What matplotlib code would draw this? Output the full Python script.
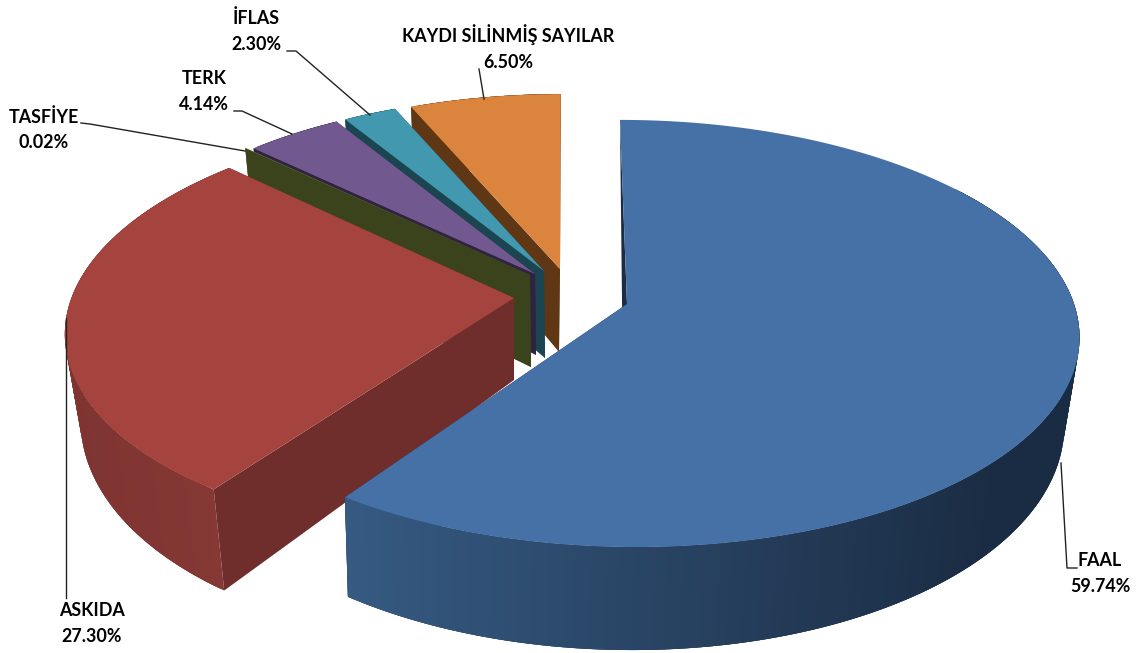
import numpy as np
import matplotlib
matplotlib.use("Agg")
import matplotlib.pyplot as plt
from matplotlib.patches import Polygon
from matplotlib.colors import to_rgb

# wartosci
names = ['FAAL', 'ASKIDA', 'TASFİYE', 'TERK', 'İFLAS', 'KAYDI SİLİNMİŞ SAYILAR']
shares = [59.74, 27.30, 0.02, 4.14, 2.30, 6.50]

# kolory: wierzch, sciana boczna
top_colors = ['#4571A6', '#A5443F', '#89A54E', '#71588F', '#4198AF', '#DB843D']
side_colors = ['#1B2D45', '#6F2E2C', '#3A431C', '#2F2340', '#1A4551', '#5F3715']
wall_left = ['#365A82', '#7E3431', '#3A431C', '#2F2340', '#1A4551', '#5F3715']
wall_right = ['#1A2C43', '#863935', '#3A431C', '#2F2340', '#1A4551', '#5F3715']

# uklad w pikselach obrazka
apex_top = [(627, 304), (514, 298), (530, 275), (535, 274), (544, 271), (560, 269)]
apex_bot = [(623, 390), (514, 380), (531, 367), (536, 355), (545, 358), (559, 352)]
scale = [1.0, 0.99, 0.965, 0.955, 0.95, 0.95]
skew = [-8, 15, 3, 3, 1, 1]
bot_x = [0.975, 0.965, 0.975, 0.975, 0.975, 0.975]
bot_y = [1.07, 1.10, 1.07, 1.07, 1.07, 1.07]
SX, SY, K = 447, 209.5, 0.138


def rim(theta, apex, s, sk, bx=1.0, by=1.0):
    u, v = np.sin(theta), np.cos(theta)
    w = 1 + K * v
    x = apex[0] + s * bx * (SX * u + sk * v) / w
    y = apex[1] - s * by * SY * v / w
    return np.column_stack([x, y])


fig = plt.figure(figsize=(11.37, 6.53), dpi=100)
ax = fig.add_axes([0, 0, 1, 1])
ax.set_xlim(0, 1137)
ax.set_ylim(653, 0)
ax.axis('off')

edges = np.radians(np.concatenate([[0], np.cumsum(shares)]) * 3.6)

# linie odniesienia
ax.plot([66, 66], [318, 598], color='#222222', lw=1.0, zorder=40)
ax.plot([1061, 1067, 1077], [463, 568, 568], color='#222222', lw=1.0, zorder=40)
ax.plot([81, 90, 245], [123, 124, 151], color='#222222', lw=1.0, zorder=40)
ax.plot([234, 242, 292], [111, 111, 134], color='#222222', lw=1.0, zorder=40)
ax.plot([287, 296, 370], [51, 51, 115], color='#222222', lw=1.0, zorder=40)
ax.plot([479, 484], [69, 99], color='#222222', lw=1.0, zorder=40)

z = 2
# od tylu do przodu
for i in [5, 4, 3, 2, 1, 0]:
    t = np.linspace(edges[i], edges[i + 1], max(3, int(shares[i] * 6)))
    top = rim(t, apex_top[i], scale[i], skew[i])
    bot = rim(t, apex_bot[i], scale[i], skew[i], bot_x[i], bot_y[i])

    # sciany promieniowe
    for j in [0, -1]:
        quad = [apex_top[i], top[j], bot[j], apex_bot[i]]
        if i == 0 and j == 0:
            # cienki pasek przy FAAL, bez zalamania
            quad = [apex_top[i], top[j], apex_bot[i]]
        ax.add_patch(Polygon(quad, closed=True, fc=side_colors[i], lw=0, zorder=z))
    z += 1

    # sciana zewnetrzna z gradientem wg x, kazdy kawalek zachodzi na nastepny
    c0, c1 = np.array(to_rgb(wall_left[i])), np.array(to_rgb(wall_right[i]))
    xmin, xmax = min(top[:, 0].min(), bot[:, 0].min()), max(top[:, 0].max(), bot[:, 0].max())
    xl = 345 if i == 0 else xmin
    xr = 1000 if i == 0 else xmax
    # FAAL: tylna czesc sciany nie jest widoczna
    start = int(len(t) * 0.25) if i == 0 else 0
    for a in range(start, len(t) - 1):
        b = min(a + 3, len(t) - 1)
        quad = np.vstack([top[a:b + 1], bot[a:b + 1][::-1]])
        f = np.clip((top[a, 0] - xl) / (xr - xl), 0, 1)
        ax.add_patch(Polygon(quad, closed=True, fc=c0 + (c1 - c0) * f, lw=0, zorder=z))
        z += 0.001
    z = int(z) + 1

    # wierzch
    face = np.vstack([[apex_top[i]], top])
    ax.add_patch(Polygon(face, closed=True, fc=top_colors[i], lw=0, zorder=z))
    z += 1

# etykiety
label_pos = [(1100, 561, 587), (92, 611, 637), (44, 117, 143), (204, 79, 105), (256, 18, 44), (508, 35, 62)]
for name, val, (x, y1, y2) in zip(names, shares, label_pos):
    ax.text(x, y1, name, ha='center', va='center', fontsize=12.9, fontweight='bold',
            family='Lato', color='black', zorder=50)
    ax.text(x, y2, '%.2f%%' % val, ha='center', va='center', fontsize=12.9, fontweight='bold',
            family='Lato', color='black', zorder=50)

fig.savefig('out.png', dpi=100, facecolor='white')
